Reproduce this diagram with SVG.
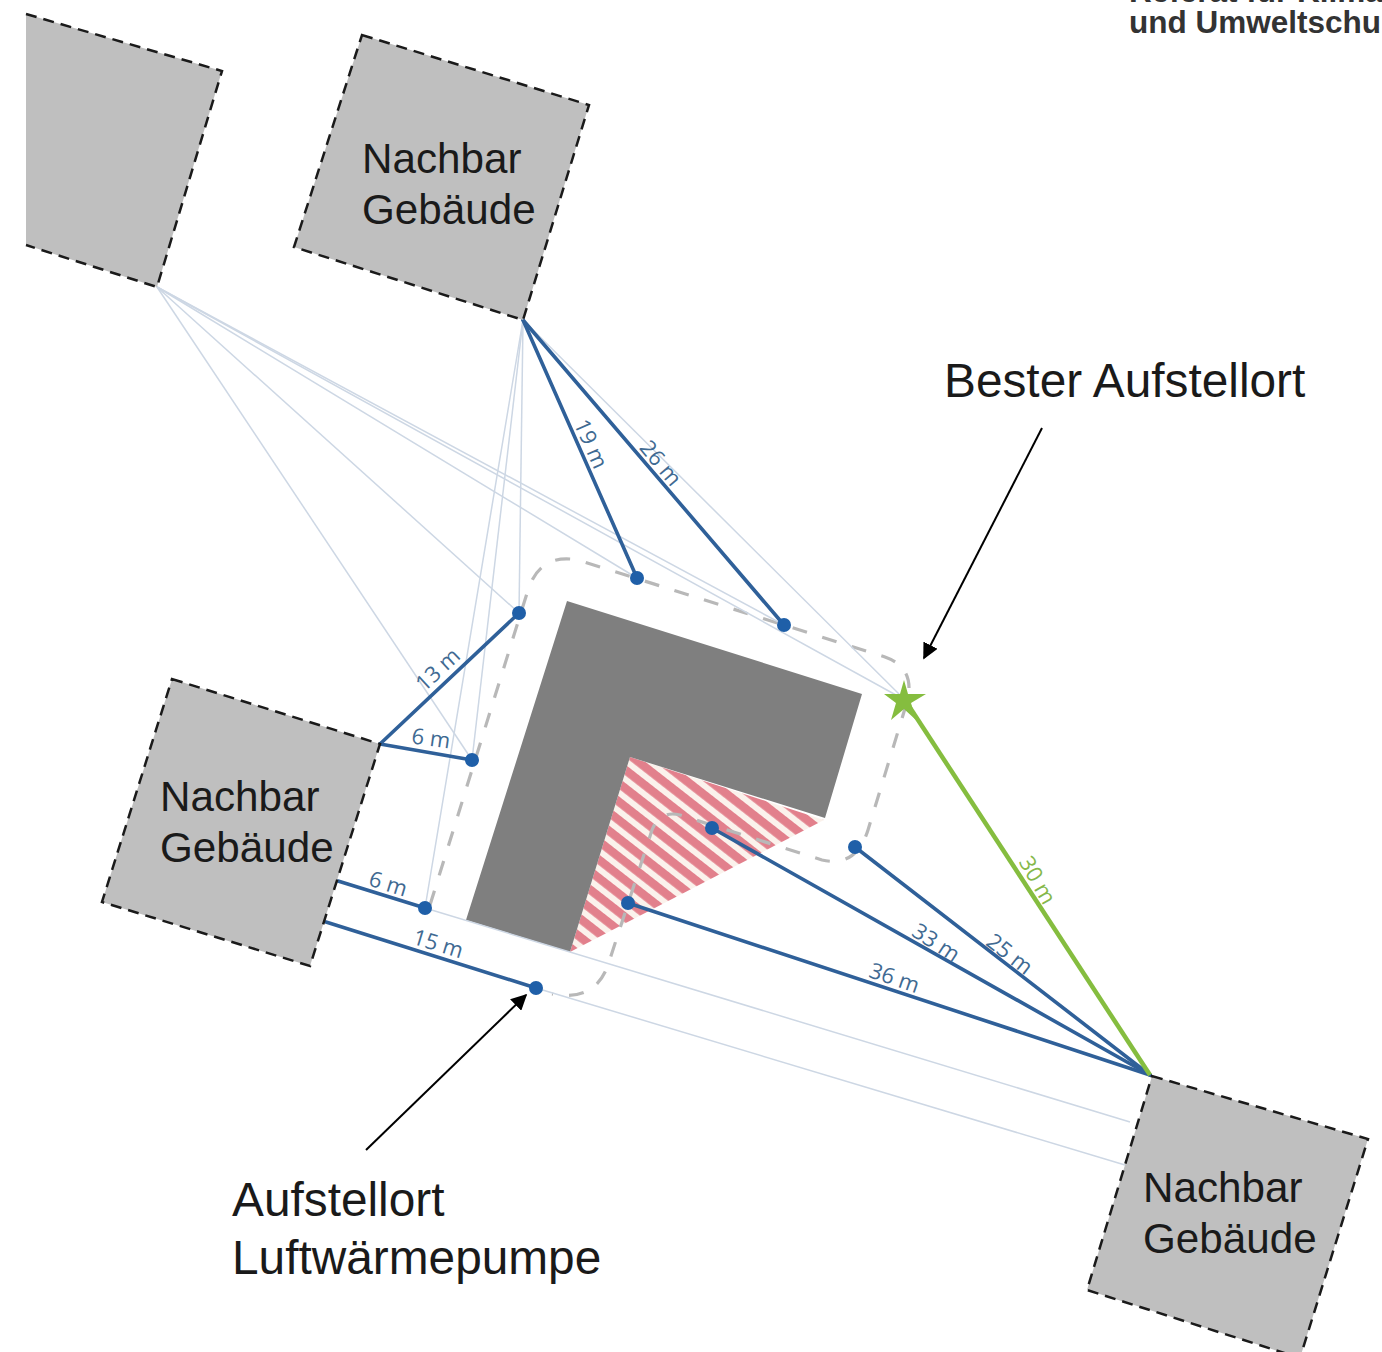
<svg xmlns="http://www.w3.org/2000/svg" width="1382" height="1352" viewBox="0 0 1382 1352">
<style>
.b{fill:#bfbfbf;stroke:#1a1a1a;stroke-width:2.5;stroke-dasharray:11 7}
.t{font-family:"Liberation Sans",Arial,sans-serif;font-size:42.2px;fill:#1a1a1a}
.a{font-family:"Liberation Sans",Arial,sans-serif;font-size:47.8px;fill:#1a1a1a}
.l{font-family:"Open Sans","Noto Sans",sans-serif;font-size:22px;fill:#3f6a92;text-anchor:middle}
.lg{fill:#cdd7e4;stroke:#cdd7e4;stroke-width:1.5}
.m{stroke:#2f6099;stroke-width:3.6;fill:none;stroke-linecap:round}
.d{fill:#1f5fa8}
.k{stroke:#000;stroke-width:2;fill:none}
</style>
<defs>
<pattern id="h" patternUnits="userSpaceOnUse" width="14.5" height="14.5" patternTransform="rotate(38)">
<rect width="14.5" height="14.5" fill="#fbf2ec"/><rect width="14.5" height="8.5" fill="#e2808c"/>
</pattern>
<marker id="ar" viewBox="0 0 10 10" refX="9" refY="5" markerWidth="8" markerHeight="8" orient="auto" markerUnits="strokeWidth"><path d="M0 0L10 5L0 10z" fill="#000"/></marker>
</defs>
<rect width="1382" height="1352" fill="#fff"/>
<g id="logo" font-family="'Liberation Sans',Arial,sans-serif" font-weight="700" font-size="31.5" fill="#333">
<text x="1129" y="2">Referat für Klima</text>
<text x="1129" y="33">und Umweltschu</text>
</g>
<g id="main-building">
<polygon points="630,757 824,820 570,952" fill="url(#h)"/>
<polygon points="567,601 862,694 825,818 630,757 570,952 466,920" fill="#7f7f7f"/>
</g>
<path id="boundary" d="M430 905L528 590Q540 553 578 560L885 657Q916 668 907 702L868 830Q856 868 822 860L680 815Q660 810 652 830L608 965Q595 1002 552 994" fill="none" stroke="#b8b8b8" stroke-width="3.2" stroke-dasharray="15 16"/>
<g id="connectors">
<g class="lg">
<line x1="157" y1="287" x2="472" y2="760"/>
<line x1="157" y1="287" x2="519" y2="613"/>
<line x1="157" y1="287" x2="637" y2="578"/>
<line x1="157" y1="287" x2="784" y2="625"/>
<line x1="157" y1="287" x2="905" y2="700"/>
<line x1="523" y1="320" x2="519" y2="613"/>
<line x1="523" y1="320" x2="472" y2="760"/>
<line x1="523" y1="320" x2="425" y2="908"/>
<line x1="523" y1="320" x2="905" y2="700"/>
<line x1="425" y1="908" x2="1130" y2="1122"/>
<line x1="536" y1="988" x2="1125" y2="1165"/>
</g>
<line class="m" x1="380" y1="744" x2="519" y2="613"/>
<line class="m" x1="380" y1="744" x2="472" y2="760"/>
<line class="m" x1="338" y1="881" x2="425" y2="908"/>
<line class="m" x1="326" y1="922" x2="536" y2="988"/>
<line class="m" x1="523" y1="320" x2="637" y2="578"/>
<line class="m" x1="523" y1="320" x2="784" y2="625"/>
<line class="m" x1="1150" y1="1075" x2="628" y2="903"/>
<line class="m" x1="1150" y1="1075" x2="712" y2="828"/>
<line class="m" x1="1150" y1="1075" x2="855" y2="847"/>
<line x1="905" y1="700" x2="1150" y2="1075" stroke="#85bd3f" stroke-width="4.5"/>
<path class="k" d="M1042 428L924 658" marker-end="url(#ar)"/>
<path class="k" d="M366 1150L526 995" marker-end="url(#ar)"/>
</g>
<g id="dots">
<circle class="d" cx="519" cy="613" r="7"/><circle class="d" cx="472" cy="760" r="7"/><circle class="d" cx="425" cy="908" r="7"/>
<circle class="d" cx="536" cy="988" r="7"/><circle class="d" cx="637" cy="578" r="7"/><circle class="d" cx="784" cy="625" r="7"/>
<circle class="d" cx="855" cy="847" r="7"/><circle class="d" cx="712" cy="828" r="7"/><circle class="d" cx="628" cy="903" r="7"/>
</g>
<polygon id="best" points="904,680 908,694 926,694 911,703 916,720 904,709 891,720 896,703 884,694 900,694" fill="#85bd3f"/>
<g id="labels">
<text class="l" transform="translate(443,675) rotate(-43)">13 m</text>
<text class="l" transform="translate(430,746) rotate(8)">6 m</text>
<text class="l" transform="translate(386,891) rotate(17)">6 m</text>
<text class="l" transform="translate(436,951) rotate(17)">15 m</text>
<text class="l" transform="translate(584,447) rotate(66)">19 m</text>
<text class="l" transform="translate(655,468) rotate(50)">26 m</text>
<text class="l" transform="translate(1031,884) rotate(60)" style="fill:#85b84a">30 m</text>
<text class="l" transform="translate(1005,960) rotate(38)">25 m</text>
<text class="l" transform="translate(932,949) rotate(33)">33 m</text>
<text class="l" transform="translate(892,985) rotate(19)">36 m</text>
</g>
<g id="n1"><polygon points="26,14 222,71 157,287 26,245" fill="#bfbfbf"/><polyline class="b" style="fill:none" points="26,14 222,71 157,287 26,245"/></g>
<g id="n2"><polygon class="b" points="362,35 589,105 523,320 294,247"/><text class="t" x="362" y="173">Nachbar</text><text class="t" x="362" y="224">Gebäude</text></g>
<g id="n3"><polygon class="b" points="172,679 380,744 310,966 102,902"/><text class="t" x="160" y="811">Nachbar</text><text class="t" x="160" y="862">Gebäude</text></g>
<g id="n4"><polygon class="b" points="1152,1076 1368,1139 1300,1358 1087,1290"/><text class="t" x="1143" y="1202">Nachbar</text><text class="t" x="1143" y="1253">Gebäude</text></g>
<g id="captions">
<text class="a" x="944" y="397">Bester Aufstellort</text>
<text class="a" x="232" y="1216">Aufstellort</text>
<text class="a" x="232" y="1274">Luftwärmepumpe</text>
</g>
</svg>
